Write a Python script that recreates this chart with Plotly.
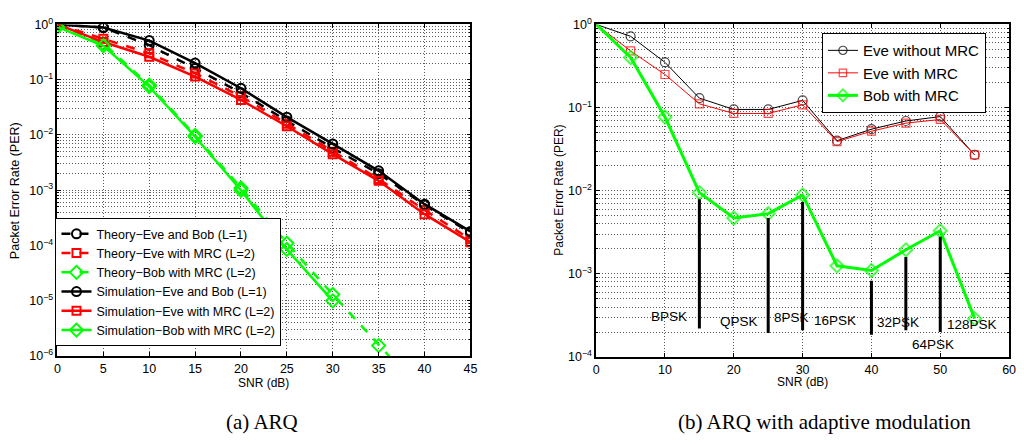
import math
import plotly.graph_objects as go

# ---------------- data: (a) ARQ ----------------
snr_a = [0, 5, 10, 15, 20, 25, 30, 35, 40, 45]
theory_eve_bob_L1 = [1.0, 0.88, 0.42, 0.16, 0.058, 0.018, 0.0058, 0.002, 5.4e-4, 1.7e-4]
theory_eve_mrc_L2 = [1.0, 0.55, 0.30, 0.13, 0.05, 0.016, 0.005, 0.0016, 4.4e-4, 1.3e-4]
snr_theory_bob = [0, 5, 10, 15, 20, 25, 30, 35, 40]
theory_bob_mrc_L2 = [1.0, 0.45, 0.08, 0.0098, 0.0011, 1.1e-4, 1.3e-5, 1.55e-6, 2.0e-7]
sim_eve_bob_L1 = [1.0, 0.88, 0.51, 0.20, 0.070, 0.021, 0.0069, 0.00225, 5.6e-4, 1.8e-4]
sim_eve_mrc_L2 = [1.0, 0.48, 0.26, 0.114, 0.043, 0.0144, 0.0045, 0.00148, 3.7e-4, 1.15e-4]
snr_sim_bob = [0, 5, 10, 15, 20, 25, 30]
sim_bob_mrc_L2 = [0.9, 0.41, 0.075, 0.0093, 0.001, 8.5e-5, 1.0e-5]

# ---------------- data: (b) ARQ with adaptive modulation ----------------
snr_b = [0, 5, 10, 15, 20, 25, 30, 35, 40, 45, 50, 55]
eve_without_mrc = [1.0, 0.72, 0.35, 0.13, 0.095, 0.095, 0.122, 0.040, 0.055, 0.069, 0.078, 0.027]
eve_with_mrc = [1.0, 0.48, 0.25, 0.111, 0.085, 0.085, 0.108, 0.039, 0.052, 0.065, 0.072, 0.027]
bob_with_mrc = [1.0, 0.40, 0.077, 0.0095, 0.0047, 0.0053, 0.0089, 0.00125, 0.0011, 0.00195, 0.0033, 2.9e-4]

# modulation switch markers (vertical bars) and their labels
switch_snr = [15, 25, 30, 40, 45, 50]
switch_top = [0.0079, 0.0047, 0.0073, 8.3e-4, 0.0016, 0.0028]
switch_bottom = [2.2e-4, 1.95e-4, 2.1e-4, 1.85e-4, 2.1e-4, 2.0e-4]
mod_names = ["BPSK", "QPSK", "8PSK", "16PSK", "32PSK", "64PSK", "128PSK"]
mod_label_x = [10.6, 20.7, 28.4, 34.7, 43.8, 48.9, 54.6]
mod_label_y = [3.1e-4, 2.7e-4, 2.96e-4, 2.77e-4, 2.57e-4, 1.4e-4, 2.45e-4]

BLACK = "#000000"
RED = "#ff0000"
GREEN = "#00ff00"
FONT = "Liberation Sans, Arial, sans-serif"
SERIF = "Liberation Serif, DejaVu Serif, serif"
GRID = "#5a5a5a"

fig = go.Figure()

# ---- left panel traces ----
def add_a(x, y, name, color, dash, symbol, size=9):
    fig.add_trace(go.Scatter(
        x=x, y=y, name=name, mode="lines+markers",
        line=dict(color=color, width=2.5, dash=dash),
        marker=dict(symbol=symbol, size=size, color="rgba(0,0,0,0)",
                    line=dict(color=color, width=2)),
        xaxis="x", yaxis="y", legend="legend",
    ))

add_a(snr_a, theory_eve_bob_L1, "Theory\u2212Eve and Bob (L=1)", BLACK, "dash", "circle")
add_a(snr_a, theory_eve_mrc_L2, "Theory\u2212Eve with MRC (L=2)", RED, "dash", "square", 8)
add_a(snr_theory_bob, theory_bob_mrc_L2, "Theory\u2212Bob with MRC (L=2)", GREEN, "dash", "diamond", 10)
add_a(snr_a, sim_eve_bob_L1, "Simulation\u2212Eve and Bob (L=1)", BLACK, "solid", "circle")
add_a(snr_a, sim_eve_mrc_L2, "Simulation\u2212Eve with MRC (L=2)", RED, "solid", "square", 8)
add_a(snr_sim_bob, sim_bob_mrc_L2, "Simulation\u2212Bob with MRC (L=2)", GREEN, "solid", "diamond", 10)

# ---- right panel traces (no marker at the 0 dB start point) ----
def sizes(n, s):
    return [0] + [s] * (n - 1)

fig.add_trace(go.Scatter(
    x=snr_b, y=eve_without_mrc, name="Eve without MRC", mode="lines+markers",
    line=dict(color=BLACK, width=1),
    marker=dict(symbol="circle", size=sizes(len(snr_b), 9), color="rgba(0,0,0,0)",
                line=dict(color=BLACK, width=1.2)),
    xaxis="x2", yaxis="y2", legend="legend2",
))
fig.add_trace(go.Scatter(
    x=snr_b, y=eve_with_mrc, name="Eve with MRC", mode="lines+markers",
    line=dict(color=RED, width=1),
    marker=dict(symbol="square", size=sizes(len(snr_b), 8), color="rgba(0,0,0,0)",
                line=dict(color=RED, width=1.2)),
    xaxis="x2", yaxis="y2", legend="legend2",
))
fig.add_trace(go.Scatter(
    x=snr_b, y=bob_with_mrc, name="Bob with MRC", mode="lines+markers",
    line=dict(color=GREEN, width=3),
    marker=dict(symbol="diamond", size=sizes(len(snr_b), 10), color="rgba(0,0,0,0)",
                line=dict(color=GREEN, width=2)),
    xaxis="x2", yaxis="y2", legend="legend2",
))

for xs, y0, y1 in zip(switch_snr, switch_top, switch_bottom):
    fig.add_trace(go.Scatter(
        x=[xs, xs], y=[y0, y1], mode="lines", showlegend=False,
        line=dict(color=BLACK, width=3), hoverinfo="skip",
        xaxis="x2", yaxis="y2",
    ))

annotations = []
for name, lx, ly in zip(mod_names, mod_label_x, mod_label_y):
    annotations.append(dict(
        x=lx, y=math.log10(ly), xref="x2", yref="y2", text=name,
        showarrow=False, font=dict(family=FONT, size=13.5, color=BLACK),
        xanchor="center", yanchor="middle",
    ))

# axis titles and captions
W, H = 1024, 447
def px(xp):
    return xp / W
def py(yp):
    return 1 - yp / H

def label(x, y, text, size, family=FONT, angle=0):
    return dict(x=px(x), y=py(y), xref="paper", yref="paper", text=text,
                textangle=angle, showarrow=False, xanchor="center", yanchor="middle",
                font=dict(family=family, size=size, color=BLACK))

annotations += [
    label(12, 188, "Packet Error Rate (PER)", 12.5, angle=-90),
    label(562, 188, "Packet Error Rate (PER)", 12, angle=-90),
    label(263, 388, "SNR (dB)", 12),
    label(807, 387, "SNR (dB)", 12),
    label(262, 428, "(a) ARQ", 21, SERIF),
    label(830, 428, "(b) ARQ with adaptive modulation", 21, SERIF),
]

def sup(e):
    return "10<sup>%s</sup>" % (str(e).replace("-", "\u2212"))

common_axis = dict(
    showline=True, linecolor=BLACK, linewidth=1.5, mirror="ticks",
    ticks="inside", ticklen=4, tickcolor=BLACK,
    showgrid=True, gridcolor=GRID, griddash="1px,2px", gridwidth=1,
    zeroline=False, tickfont=dict(family=FONT, size=12.5, color=BLACK),
)
minor_axis = dict(dtick="D1", showgrid=True, gridcolor=GRID, griddash="1px,2px",
                  ticks="inside", ticklen=2, tickcolor=BLACK)

fig.update_layout(
    width=W, height=H, margin=dict(l=0, r=0, t=0, b=0),
    paper_bgcolor="white", plot_bgcolor="white",
    font=dict(family=FONT, color=BLACK),
    xaxis=dict(domain=[px(55), px(472)], range=[0, 45], tickvals=list(range(0, 50, 5)),
               anchor="y", **common_axis),
    yaxis=dict(domain=[py(360), py(16)], type="log", range=[-6, 0], anchor="x",
               tickvals=[10.0 ** e for e in range(-6, 1)], ticktext=[sup(e) for e in range(-6, 1)],
               minor=minor_axis, **common_axis),
    xaxis2=dict(domain=[px(599), px(1016)], range=[0, 60], tickvals=list(range(0, 70, 10)),
                anchor="y2", **common_axis),
    yaxis2=dict(domain=[py(361), py(16)], type="log", range=[-4, 0], anchor="x2",
                tickvals=[10.0 ** e for e in range(-4, 1)], ticktext=[sup(e) for e in range(-4, 1)],
                minor=minor_axis, **common_axis),
    legend=dict(x=px(53), y=py(217), xanchor="left", yanchor="top",
                bgcolor="white", bordercolor=BLACK, borderwidth=1,
                font=dict(family=FONT, size=12.5, color=BLACK), tracegroupgap=0),
    legend2=dict(x=px(827), y=py(25), xanchor="left", yanchor="top",
                 bgcolor="white", bordercolor=BLACK, borderwidth=1,
                 font=dict(family=FONT, size=15, color=BLACK), tracegroupgap=0),
    annotations=annotations,
    showlegend=True,
)

fig.write_html("out.html")
